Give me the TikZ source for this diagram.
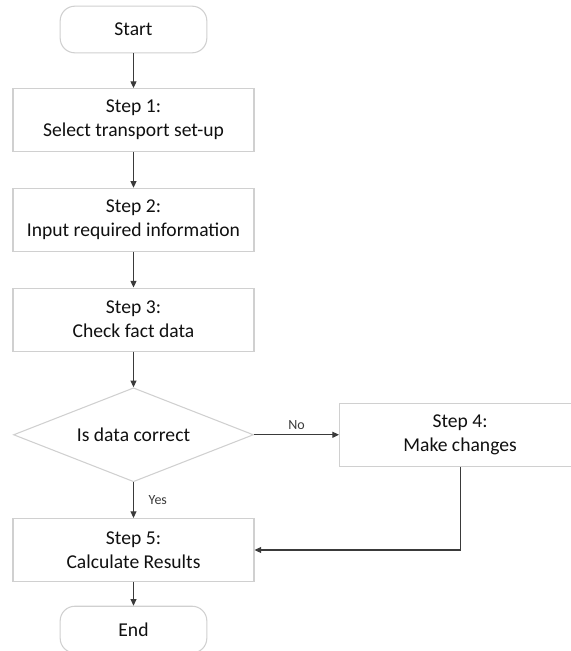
\documentclass[tikz,border=0pt]{standalone}
\usepackage{fontspec}
\setmainfont{Carlito}
\usepackage{xcolor}
\usepackage{tikz}
\usetikzlibrary{arrows.meta}
\usetikzlibrary{positioning}
\usetikzlibrary{shapes.geometric}
\definecolor{boxgray}{HTML}{D0D0D0}
\definecolor{linegray}{HTML}{3A3A3A}
\definecolor{textgray}{HTML}{101010}
\tikzset{
  flownode/.style = {align=center, inner sep=0pt, text centered,
    font=\fontsize{14.7pt}{18pt}\selectfont, draw=boxgray, line width=0.8pt,
    text=textgray},
  stepbox/.style = {flownode, rectangle, minimum width=180.75pt,
    minimum height=47.25pt},% step box
  termbox/.style = {flownode, rectangle, rounded corners=11pt,
    minimum width=110pt, minimum height=35pt},% start, end
  decbox/.style = {flownode, diamond, aspect=2.55, minimum width=180pt,
    minimum height=70.5pt},% decision
  flowarrow/.style = {draw=linegray, line width=0.8pt},
  yesno/.style = {inner sep=0pt, font=\fontsize{10.5pt}{12pt}\selectfont,
    text=linegray}
}

\begin{document}
\begin{tikzpicture}[>={Triangle[length=5pt,width=4.5pt]}, node distance=26.75pt]
\useasboundingbox (-100.125pt,22.125pt) rectangle (328.125pt,-466.125pt);

\node [termbox] (start) at (0,0) {Start};
\node [stepbox, below=26pt of start] (s1) {Step 1:\\Select transport set-up};
\node [stepbox, below=of s1] (s2) {Step 2:\\Input required information};
\node [stepbox, below=of s2] (s3) {Step 3:\\Check fact data};
\node [decbox, below=of s3] (dec) {Is data correct};
\node [stepbox, right=63.75pt of dec] (s4) {Step 4:\\Make changes};
\node [stepbox, below=of dec] (s5) {Step 5:\\Calculate Results};
\node [termbox, below=17.75pt of s5] (end) {End};

\draw [flowarrow, ->] (start) -- (s1);
\draw [flowarrow, ->] (s1) -- (s2);
\draw [flowarrow, ->] (s2) -- (s3);
\draw [flowarrow, ->] (s3) -- (dec);
\draw [flowarrow, ->] (dec) -- node [yesno, above=3.75pt] {No} (s4);
\draw [flowarrow, ->] (dec) -- node [yesno, right=11pt] {Yes} (s5);
\draw [flowarrow, ->] (s4.south) |- (s5.east);
\draw [flowarrow, ->] (s5) -- (end);
\end{tikzpicture}
\end{document}
